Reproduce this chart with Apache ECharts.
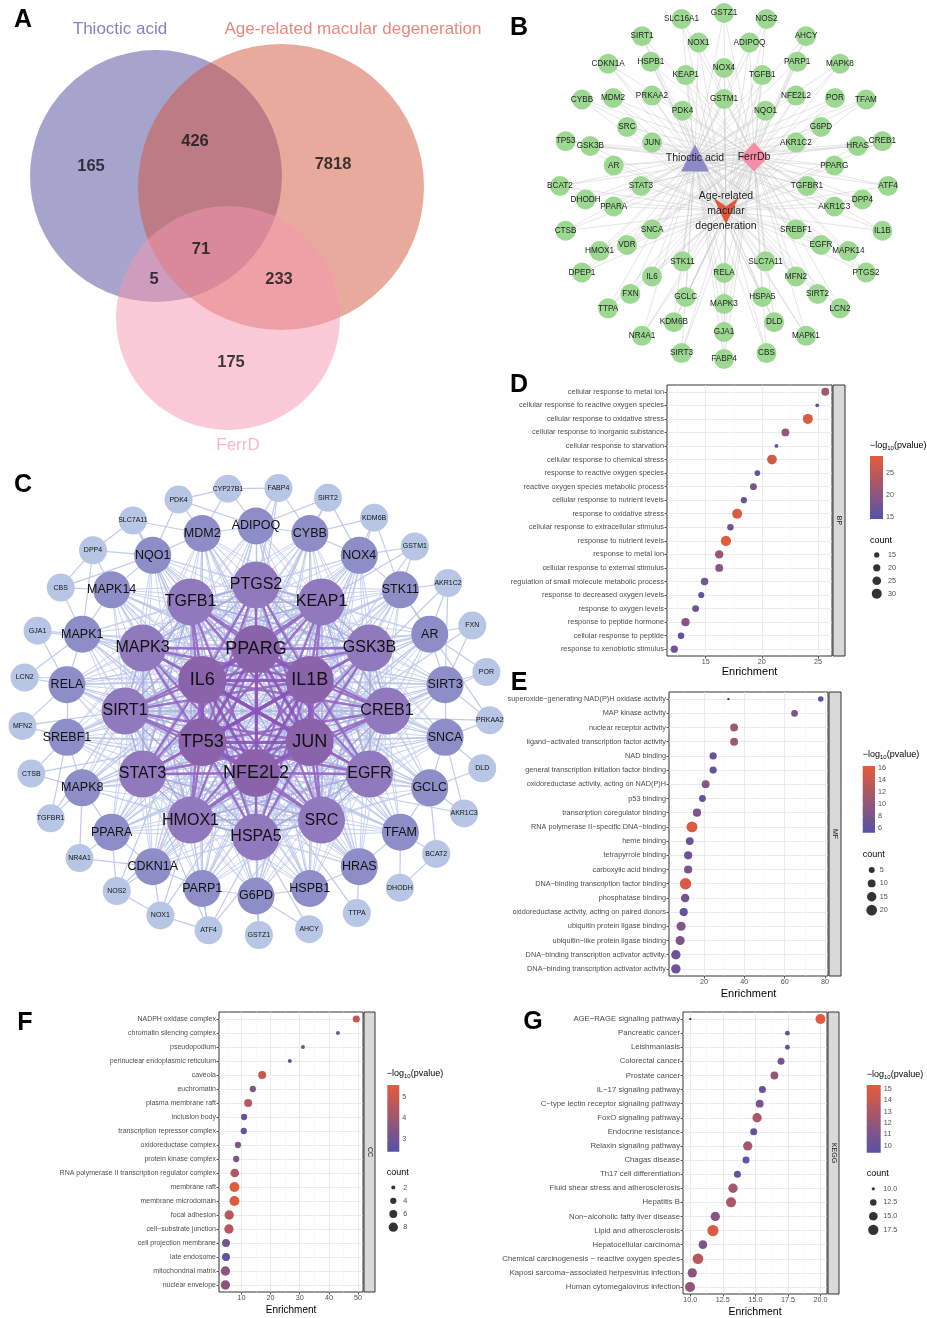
<!DOCTYPE html>
<html><head><meta charset="utf-8"><title>Figure</title>
<script src="https://cdn.jsdelivr.net/npm/echarts@6.0.0/dist/echarts.min.js"></script>
<style>html,body{margin:0;padding:0;background:#fff;}#chart{width:927px;height:1318px;}</style>
</head><body><div id="chart"></div>
<script>
// ======================= DATA =======================
const vennSetNames = ['Thioctic acid', 'Age-related macular degeneration', 'FerrD'];
// regions: T only, T∩A, A only, T∩A∩F, T∩F, A∩F, F only
const vennRegionCounts = [165, 426, 7818, 71, 5, 233, 175];

const bHubNames = ['Thioctic acid', 'FerrDb', 'Age-related\nmacular\ndegeneration'];
const bRing1 = ['GSTM1','NQO1','AKR1C2','TGFBR1','SREBF1','SLC7A11','RELA','STK11','SNCA','STAT3','JUN','PDK4'];
const bRing2 = ['NOX4','TGFB1','NFE2L2','G6PD','PPARG','AKR1C3','EGFR','MFN2','HSPA5','MAPK3','GCLC','IL6','VDR','PPARA','AR','SRC','PRKAA2','KEAP1'];
const bRing3 = ['GJA1','KDM6B','FXN','HMOX1','DHODH','GSK3B','MDM2','HSPB1','NOX1','ADIPOQ','PARP1','POR','HRAS','DPP4','MAPK14','SIRT2','DLD'];
const bRing4 = ['GSTZ1','NOS2','AHCY','MAPK8','TFAM','CREB1','ATF4','IL1B','PTGS2','LCN2','MAPK1','CBS','FABP4','SIRT3','NR4A1','TTPA','DPEP1','CTSB','BCAT2','TP53','CYBB','CDKN1A','SIRT1','SLC16A1'];

const cRing1 = ['PPARG','IL1B','JUN','NFE2L2','TP53','IL6'];
const cRing2 = ['CREB1','EGFR','SRC','HSPA5','HMOX1','STAT3','SIRT1','MAPK3','TGFB1','PTGS2','KEAP1','GSK3B'];
const cRing3 = ['ADIPOQ','CYBB','NOX4','STK11','AR','SIRT3','SNCA','GCLC','TFAM','HRAS','HSPB1','G6PD','PARP1','CDKN1A','PPARA','MAPK8','SREBF1','RELA','MAPK1','MAPK14','NQO1','MDM2'];
const cRing4 = ['FABP4','SIRT2','KDM6B','GSTM1','AKR1C2','FXN','POR','PRKAA2','DLD','AKR1C3','BCAT2','DHODH','TTPA','AHCY','GSTZ1','ATF4','NOX1','NOS2','NR4A1','TGFBR1','CTSB','MFN2','LCN2','GJA1','CBS','DPP4','SLC7A11','PDK4','CYP27B1'];
const cPeripheralLinks = {
  FABP4:['ADIPOQ','PPARG','PTGS2','CYBB','CYP27B1'], SIRT2:['CYBB','NOX4','ADIPOQ','PPARG'],
  KDM6B:['NOX4','CYBB','STK11','JUN'], GSTM1:['NOX4','STK11','NFE2L2','KEAP1'],
  AKR1C2:['STK11','AR','NFE2L2','SIRT3'], FXN:['AR','SIRT3','NFE2L2'], POR:['SIRT3','AR','NFE2L2'],
  PRKAA2:['SIRT3','SNCA','SIRT1','STK11'], DLD:['SNCA','GCLC'], AKR1C3:['GCLC','SNCA','NFE2L2'],
  BCAT2:['GCLC','TFAM','DHODH'], DHODH:['TFAM'], TTPA:['HRAS','NFE2L2'], AHCY:['HSPA5','G6PD'],
  GSTZ1:['G6PD','NFE2L2'], ATF4:['PARP1','NOX1','HMOX1','JUN','CREB1','STAT3'],
  NOX1:['NOS2','CDKN1A','HMOX1','NFE2L2'], NOS2:['CDKN1A','PPARA','HMOX1','IL6'],
  NR4A1:['PPARA','MAPK8','CDKN1A'], TGFBR1:['MAPK8','SREBF1','TGFB1'], CTSB:['SREBF1','MAPK8','TP53'],
  MFN2:['SREBF1','RELA','SIRT1'], LCN2:['RELA','MAPK1','IL6'], GJA1:['MAPK1','RELA','MAPK3'],
  CBS:['MAPK14','MAPK1','NQO1'], DPP4:['NQO1','MAPK14','MAPK1','CBS'], SLC7A11:['NQO1','MDM2','DPP4','NFE2L2'],
  PDK4:['MDM2','NQO1','ADIPOQ','CYP27B1'], CYP27B1:['ADIPOQ','MDM2']
};

// D: GO BP
const dTerms = ['cellular response to metal ion','cellular response to reactive oxygen species','cellular response to oxidative stress','cellular response to inorganic substance','cellular response to starvation','cellular response to chemical stress','response to reactive oxygen species','reactive oxygen species metabolic process','cellular response to nutrient levels','response to oxidative stress','cellular response to extracellular stimulus','response to nutrient levels','response to metal ion','cellular response to external stimulus','regulation of small molecule metabolic process','response to decreased oxygen levels','response to oxygen levels','response to peptide hormone','cellular response to peptide','response to xenobiotic stimulus'];
const dEnrichment = [25.65, 24.93, 24.1, 22.1, 21.3, 20.9, 19.6, 19.25, 18.4, 17.8, 17.2, 16.8, 16.2, 16.2, 14.9, 14.6, 14.1, 13.2, 12.8, 12.2];
const dCount = [22, 12, 30, 22, 12, 29, 16, 19, 17, 30, 18, 31, 24, 22, 21, 17, 19, 23, 18, 20];
const dLogP = [22, 15, 28, 21, 14.5, 27, 15.5, 18, 16, 28, 17, 29, 21, 20, 18, 15.5, 17, 19, 15.5, 17];
const dTicks = [15, 20, 25];
const dColorTicks = [15, 20, 25];
const dSizeLegend = [15, 20, 25, 30];

// E: GO MF
const eTerms = ['superoxide\u2212generating NAD(P)H oxidase activity','MAP kinase activity','nuclear receptor activity','ligand\u2212activated transcription factor activity','NAD binding','general transcription initiation factor binding','oxidoreductase activity, acting on NAD(P)H','p53 binding','transcription coregulator binding','RNA polymerase II\u2212specific DNA\u2212binding','heme binding','tetrapyrrole binding','carboxylic acid binding','DNA\u2212binding transcription factor binding','phosphatase binding','oxidoreductase activity, acting on paired donors','ubiquitin protein ligase binding','ubiquitin\u2212like protein ligase binding','DNA\u2212binding transcription activator activity,','DNA\u2212binding transcription activator activity'];
const eEnrichment = [77.9, 64.9, 34.9, 34.9, 24.5, 24.5, 20.8, 19.2, 16.5, 14.0, 12.9, 12.1, 12.1, 10.8, 10.6, 9.9, 8.6, 8.1, 6.0, 6.0];
const eCount = [4, 7, 10, 10, 8, 8, 10, 7, 11, 21, 10, 11, 11, 23, 12, 11, 14, 14, 15, 15];
const eLogP = [6, 8, 11, 11, 6.5, 6.5, 9, 6, 8.5, 16, 7, 7, 8, 15.5, 7.5, 6, 8.5, 8.5, 7, 7];
const eStray = [32.1];
const eTicks = [20, 40, 60, 80];
const eColorTicks = [6, 8, 10, 12, 14, 16];
const eSizeLegend = [5, 10, 15, 20];

// F: GO CC
const fTerms = ['NADPH oxidase complex','chromatin silencing complex','pseudopodium','perinuclear endoplasmic reticulum','caveola','euchromatin','plasma membrane raft','inclusion body','transcription repressor complex','oxidoreductase complex','protein kinase complex','RNA polymerase II transcription regulator complex','membrane raft','membrane microdomain','focal adhesion','cell\u2212substrate junction','cell projection membrane','late endosome','mitochondrial matrix','nuclear envelope'];
const fEnrichment = [49.4, 43.1, 31.1, 26.6, 17.1, 13.9, 12.3, 10.9, 10.8, 8.8, 8.2, 7.7, 7.6, 7.6, 5.8, 5.7, 4.7, 4.7, 4.5, 4.5];
const fCount = [5, 2, 2, 2, 6, 4, 6, 4, 4, 4, 4, 7, 9, 9, 8, 8, 6, 6, 8, 8];
const fLogP = [4.8, 3.2, 2.9, 2.6, 5.0, 3.3, 4.6, 2.7, 2.7, 3.4, 3.2, 4.4, 5.5, 5.5, 4.6, 4.6, 3.1, 2.5, 3.6, 3.6];
const fTicks = [10, 20, 30, 40, 50];
const fColorTicks = [3, 4, 5];
const fSizeLegend = [2, 4, 6, 8];

// G: KEGG
const gTerms = ['AGE\u2212RAGE signaling pathway','Pancreatic cancer','Leishmaniasis','Colorectal cancer','Prostate cancer','IL\u221217 signaling pathway','C\u2212type lectin receptor signaling pathway','FoxO signaling pathway','Endocrine resistance','Relaxin signaling pathway','Chagas disease','Th17 cell differentiation','Fluid shear stress and atherosclerosis','Hepatitis B','Non\u2212alcoholic fatty liver disease','Lipid and atherosclerosis','Hepatocellular carcinoma','Chemical carcinogenesis \u2212 reactive oxygen species','Kaposi sarcoma\u2212associated herpesvirus infection','Human cytomegalovirus infection'];
const gEnrichment = [20.0, 17.46, 17.46, 16.97, 16.46, 15.54, 15.33, 15.13, 14.87, 14.41, 14.28, 13.62, 13.28, 13.13, 11.92, 11.74, 10.97, 10.59, 10.15, 9.98];
const gCount = [17, 11, 11, 13, 14, 13, 14, 16, 13, 16, 13, 13, 16, 17, 16, 19, 15, 18, 16, 17];
const gLogP = [15.3, 9.6, 9.6, 11, 12, 10.3, 11, 13, 10, 12.5, 10, 9.8, 12.5, 13, 11.5, 15, 11, 13.5, 11.5, 12];
const gStray = [10.0];
const gTicks = [10, 12.5, 15, 17.5, 20];
const gColorTicks = [10, 11, 12, 13, 14, 15];
const gSizeLegend = [10, 12.5, 15, 17.5];

// ======================= LAYOUT / STYLE =======================
const FONT = 'Arial, "Liberation Sans", Helvetica, sans-serif';
const LOW = '#5652a8', HIGH = '#e45b3b';
const option = {animation:false, backgroundColor:'#fff', textStyle:{fontFamily:FONT},
  grid:[], xAxis:[], yAxis:[], series:[], visualMap:[], graphic:{elements:[]}};

function addGrid(grid, xa, ya) {
  option.grid.push(Object.assign({containLabel:false, outerBoundsMode:'none'}, grid));
  const gi = option.grid.length - 1;
  option.xAxis.push(Object.assign({gridIndex:gi}, xa));
  option.yAxis.push(Object.assign({gridIndex:gi}, ya));
  return {xAxisIndex: option.xAxis.length - 1, yAxisIndex: option.yAxis.length - 1};
}
const hid = (min, max, inv) => ({type:'value', min, max, inverse:!!inv, show:false, splitLine:{show:false}});
function gText(x, y, text, style, extra) {
  option.graphic.elements.push(Object.assign({type:'text', x, y, z:100, silent:true,
    style:Object.assign({text, align:'left', verticalAlign:'middle', fontFamily:FONT, fill:'#000'}, style)}, extra || {}));
}

// ---------- Panel A: Venn ----------
const VENN = {box:{left:0, top:0, width:480, height:460},
  circles:[[156,176,126],[281,187,143],[228,318,112]],
  fills:['rgba(77,71,153,0.5)','rgba(211,85,61,0.5)','rgba(245,149,173,0.5)'],
  countPos:[[91,166],[195,141],[333,164],[201,249],[154,279],[279,279],[231,362]],
  setPos:[[120,29],[353,29],[238,445]],
  setColors:['#6761af','#e3695b','#f5a5bc']};
{
  const ax = addGrid(VENN.box, hid(0, 480), hid(0, 460, true));
  option.series.push({type:'custom', ...ax, silent:true, z:1, data:VENN.circles,
    renderItem:(params, api) => {
      const c = api.coord([api.value(0), api.value(1)]);
      const r = api.size([api.value(2), 0])[0];
      return {type:'circle', shape:{cx:c[0], cy:c[1], r}, style:{fill:VENN.fills[params.dataIndex]}};
    }});
  option.series.push({type:'scatter', ...ax, silent:true, z:5, symbolSize:1, itemStyle:{color:'rgba(0,0,0,0)'},
    data:vennRegionCounts.map((c, i) => [VENN.countPos[i][0], VENN.countPos[i][1], c]),
    label:{show:true, position:'inside', formatter:p => String(p.value[2]), fontSize:16.5, fontWeight:'bold', color:'#111', fontFamily:FONT}});
  option.series.push({type:'scatter', ...ax, silent:true, z:5, symbolSize:1, itemStyle:{color:'rgba(0,0,0,0)'},
    data:vennSetNames.map((n, i) => ({name:n, value:VENN.setPos[i], label:{color:VENN.setColors[i]}})),
    label:{show:true, position:'inside', formatter:'{b}', fontSize:17, fontFamily:FONT}});
}

// ---------- Panel B: compound-target network ----------
const BL = {box:{left:480, top:0, width:447, height:380}, center:[244,186],
  rings:[[83,87],[112,118],[139,146],[164,173]], start:[-90,-90,90,-90],
  hubOffset:[[-29,-28],[30,-29],[2,25]],
  hubSymbols:['triangle','diamond','path://M0,0 L12.5,9 L25,0 L12.5,27 Z'],
  hubSizes:[[28,27],[28,29],[25,27]], hubColors:['#8d89c9','#f58ca8','#e2573a'],
  nodeSize:20, nodeColor:'#9dd892'};
{
  const ax = addGrid(BL.box, hid(0, 447), hid(0, 380, true));
  const nodes = [], links = [];
  bHubNames.forEach((n, i) => nodes.push({name:n,
    value:[BL.center[0] + BL.hubOffset[i][0], BL.center[1] + BL.hubOffset[i][1]],
    symbol:BL.hubSymbols[i], symbolSize:BL.hubSizes[i], itemStyle:{color:BL.hubColors[i]},
    label:{fontSize:10.5, lineHeight:15, color:'#222'}}));
  [bRing1, bRing2, bRing3, bRing4].forEach((ring, ri) => {
    ring.forEach((g, k) => {
      const a = (BL.start[ri] + k * 360 / ring.length) * Math.PI / 180;
      const idx = nodes.length;
      nodes.push({name:g, value:[BL.center[0] + BL.rings[ri][0] * Math.cos(a), BL.center[1] + BL.rings[ri][1] * Math.sin(a)]});
      for (let h = 0; h < bHubNames.length; h++) links.push({source:idx, target:h});
    });
  });
  option.series.push({type:'graph', coordinateSystem:'cartesian2d', ...ax, layout:'none', silent:true, z:3,
    symbolSize:BL.nodeSize, itemStyle:{color:BL.nodeColor},
    label:{show:true, position:'inside', formatter:'{b}', fontSize:8.2, color:'#222', fontFamily:FONT},
    lineStyle:{color:'#c9c9c9', width:0.6, opacity:0.8, curveness:0},
    data:nodes, links:links});
}

// ---------- Panel C: PPI network ----------
const CL = {box:{left:0, top:470, width:510, height:500}, center:[256,241],
  rings:[[62,62],[131,126],[191,185],[234,224]], start:[-90,0,-90,-84.5],
  sizes:[48,47,37,28], fonts:[18,16,12.5,7],
  colors:['#8b63ab','#9079bc','#8d8ec7','#b8c6e6']};
{
  const ax = addGrid(CL.box, hid(0, 510), hid(0, 500, true));
  const nodes = [], index = {};
  const rings = [cRing1, cRing2, cRing3, cRing4];
  rings.forEach((ring, ri) => ring.forEach((g, k) => {
    const a = (CL.start[ri] + k * 360 / ring.length) * Math.PI / 180;
    index[g] = nodes.length;
    nodes.push({name:g, value:[CL.center[0] + CL.rings[ri][0] * Math.cos(a), CL.center[1] + CL.rings[ri][1] * Math.sin(a)],
      symbolSize:CL.sizes[ri], itemStyle:{color:CL.colors[ri]}, label:{fontSize:CL.fonts[ri]}});
  }));
  const S = {light:{color:'#b9c5e9', width:1.2}, light2:{color:'#c3cdee', width:1.0},
             lav:{color:'#a6a8dc', width:1.6}, purple:{color:'#9466c2', width:2.3}, thick:{color:'#8a55b8', width:3.2}};
  const links = [];
  const add = (a, b, st) => { if (index[a] != null && index[b] != null) links.push({source:index[a], target:index[b], lineStyle:st}); };
  cRing3.forEach(n => cRing2.forEach(h => add(n, h, S.light2)));
  cRing3.forEach(n => cRing1.forEach(h => add(n, h, S.light)));
  cRing3.forEach((n, k) => add(n, cRing3[(k + 1) % cRing3.length], S.light));
  Object.keys(cPeripheralLinks).forEach(n => cPeripheralLinks[n].forEach(m => add(n, m, S.light)));
  for (let i = 0; i < cRing2.length; i++) for (let j = i + 1; j < cRing2.length; j++) add(cRing2[i], cRing2[j], S.lav);
  cRing1.forEach(a => cRing2.forEach(b => add(a, b, S.purple)));
  for (let i = 0; i < cRing1.length; i++) for (let j = i + 1; j < cRing1.length; j++) add(cRing1[i], cRing1[j], S.thick);
  option.series.push({type:'graph', coordinateSystem:'cartesian2d', ...ax, layout:'none', silent:true, z:3,
    label:{show:true, position:'inside', formatter:'{b}', color:'#111', fontFamily:FONT},
    lineStyle:{opacity:0.9, curveness:0},
    data:nodes, links:links});
}

// ---------- Dot plots D-G ----------
function dotPanel(P, terms, enr, cnt, logp, stray) {
  const s = P.size;
  const sizeFn = c => Math.sqrt(Math.max(2.5, s.dA * s.dA + (s.dB * s.dB - s.dA * s.dA) * (c - s.cA) / (s.cB - s.cA)));
  const isTick = (v, arr) => arr.some(t => Math.abs(t - v) < 1e-6);
  const ax = addGrid({left:P.plot[0], top:P.plot[1], width:P.plot[2], height:P.plot[3], show:true, borderColor:'#333', borderWidth:1, backgroundColor:'#fff'},
    {type:'value', min:P.xr[0], max:P.xr[1], minInterval:P.xInt, maxInterval:P.xInt,
     name:'Enrichment', nameLocation:'middle', nameGap:P.nameGap, nameTextStyle:{fontSize:P.nameFs, color:'#000', fontFamily:FONT},
     axisLine:{show:false},
     axisTick:{show:true, length:2.5, lineStyle:{color:'#333', width:0.8}, customValues:P.ticks},
     axisLabel:{fontSize:7.2, color:'#4d4d4d', margin:3, customValues:P.ticks, formatter:v => isTick(v, P.ticks) ? P.fmt(v) : ''},
     splitLine:{show:true, lineStyle:{color:'#e6e6e6', width:0.8}},
     minorTick:{show:false, splitNumber:2}, minorSplitLine:{show:true, lineStyle:{color:'#f3f3f3', width:0.5}}},
    {type:'category', data:terms, inverse:true, axisLine:{show:false},
     axisTick:{show:true, alignWithLabel:true, interval:0, length:2.5, lineStyle:{color:'#333', width:0.8}},
     axisLabel:{interval:0, fontSize:P.fs, color:'#4d4d4d', margin:3},
     splitLine:{show:true, interval:0, alignWithLabel:true, lineStyle:{color:'#e6e6e6', width:0.8}}});
  const si = option.series.length;
  option.series.push({type:'scatter', ...ax, silent:true, z:3,
    data:terms.map((t, i) => [enr[i], t, cnt[i], logp[i]]), symbolSize:v => sizeFn(v[2]), itemStyle:{opacity:1}});
  option.visualMap.push({type:'continuous', show:false, seriesIndex:si, dimension:3,
    min:P.cb.range[0], max:P.cb.range[1], inRange:{color:[LOW, HIGH]}});
  if (stray) option.series.push({type:'scatter', ...ax, silent:true, z:4, symbol:'rect', symbolSize:2,
    itemStyle:{color:'#000'}, data:stray.map(v => [v, terms[0]])});

  // colour bar
  const cb = P.cb;
  const cax = addGrid({left:cb.rect[0], top:cb.rect[1], width:cb.rect[2], height:cb.rect[3]}, hid(0, 1),
    {type:'value', min:cb.range[0], max:cb.range[1], position:'right', minInterval:cb.int, maxInterval:cb.int, z:10,
     axisLine:{show:false},
     axisTick:{show:true, inside:true, length:2.5, lineStyle:{color:'#fff', width:1}, customValues:cb.ticks},
     axisLabel:{fontSize:7.2, color:'#4d4d4d', margin:3, customValues:cb.ticks, formatter:v => isTick(v, cb.ticks) ? String(v) : ''},
     splitLine:{show:false}});
  option.series.push({type:'custom', ...cax, silent:true, z:2, data:[[0, cb.range[0], cb.range[1]]],
    renderItem:(params, api) => {
      const p0 = api.coord([0, api.value(1)]), p1 = api.coord([1, api.value(2)]);
      return {type:'rect', shape:{x:p0[0], y:p1[1], width:p1[0] - p0[0], height:p0[1] - p1[1]},
        style:{fill:new echarts.graphic.LinearGradient(0, 1, 0, 0, [{offset:0, color:LOW}, {offset:1, color:HIGH}])}};
    }});

  // size legend
  const sz = P.szLegend;
  const sax = addGrid({left:sz.rect[0], top:sz.rect[1], width:sz.rect[2], height:sz.rect[3]}, hid(0, 1),
    {type:'category', data:sz.vals.map(P.szFmt), inverse:true, position:'right', axisLine:{show:false}, axisTick:{show:false},
     axisLabel:{interval:0, fontSize:7.2, color:'#4d4d4d', margin:sz.margin}, splitLine:{show:false}});
  option.series.push({type:'scatter', ...sax, silent:true, data:sz.vals.map(v => [0.5, P.szFmt(v), v]),
    symbolSize:v => sizeFn(v[2]), itemStyle:{color:'#000'}});

  gText(P.cbTitle[0], P.cbTitle[1], '{a|\u2212log}{s|10}{a|(pvalue)}',
    {rich:{a:{fontSize:9, fill:'#000', fontFamily:FONT}, s:{fontSize:6, fill:'#000', fontFamily:FONT, padding:[5,0,0,0]}}});
  gText(P.countTitle[0], P.countTitle[1], 'count', {fontSize:9});
  option.graphic.elements.push({type:'rect', z:50, silent:true,
    shape:{x:P.strip[0], y:P.strip[1], width:P.strip[2], height:P.strip[3]},
    style:{fill:'#d9d9d9', stroke:'#333', lineWidth:1}});
  gText(P.strip[0] + P.strip[2] / 2, P.strip[1] + P.strip[3] / 2, P.stripLabel,
    {fontSize:7, fill:'#1a1a1a', align:'center'}, {rotation:-Math.PI / 2});
}

const intFmt = v => String(v);
const oneDec = v => v.toFixed(1);
dotPanel({plot:[667,385,165,271], xr:[11.55,26.25], xInt:5, ticks:dTicks, fmt:intFmt, fs:7.4, nameGap:9.5, nameFs:11,
  size:{cA:15, dA:5.3, cB:30, dB:10},
  cb:{rect:[870,456,13,63], range:[14.5,28.9], int:5, ticks:dColorTicks},
  cbTitle:[870,446], countTitle:[870,540.5],
  szLegend:{rect:[870.5,548.5,12.5,51.6], vals:dSizeLegend, margin:5}, szFmt:intFmt,
  strip:[833,385,12,271], stripLabel:'BP'}, dTerms, dEnrichment, dCount, dLogP, null);

dotPanel({plot:[669,692,159,284], xr:[2.6,81.5], xInt:20, ticks:eTicks, fmt:intFmt, fs:7.3, nameGap:12.5, nameFs:11,
  size:{cA:5, dA:6, cB:20, dB:10.7},
  cb:{rect:[862.7,766,12.3,66.7], range:[5.2,16.4], int:2, ticks:eColorTicks},
  cbTitle:[862.7,755], countTitle:[862.7,855],
  szLegend:{rect:[865.7,863.3,12,53.6], vals:eSizeLegend, margin:2}, szFmt:intFmt,
  strip:[829,692,12,284], stripLabel:'MF'}, eTerms, eEnrichment, eCount, eLogP, eStray);

dotPanel({plot:[219,1012,144,280], xr:[2.3,51.7], xInt:10, ticks:fTicks, fmt:intFmt, fs:7.0, nameGap:13.5, nameFs:10,
  size:{cA:2, dA:4, cB:8, dB:9.3},
  cb:{rect:[387.3,1085,12,66.7], range:[2.4,5.6], int:1, ticks:fColorTicks},
  cbTitle:[386.7,1074], countTitle:[386.7,1172.7],
  szLegend:{rect:[387.3,1181,12,52.8], vals:fSizeLegend, margin:4}, szFmt:intFmt,
  strip:[364,1012,11,280], stripLabel:'CC'}, fTerms, fEnrichment, fCount, fLogP, null);

dotPanel({plot:[683,1012,144,282], xr:[9.44,20.5], xInt:2.5, ticks:gTicks, fmt:oneDec, fs:7.75, nameGap:13, nameFs:10.5,
  size:{cA:10, dA:3.3, cB:17.5, dB:10.3},
  cb:{rect:[866.7,1085,14,67.7], range:[9.4,15.35], int:1, ticks:gColorTicks},
  cbTitle:[866.7,1075], countTitle:[866.7,1174],
  szLegend:{rect:[866.8,1182,13,54.7], vals:gSizeLegend, margin:3.5}, szFmt:oneDec,
  strip:[828,1012,11,282], stripLabel:'KEGG'}, gTerms, gEnrichment, gCount, gLogP, gStray);

// panel letters
[['A',23,20],['B',519,28],['C',23,485],['D',519,385],['E',519,683],['F',25,1023],['G',533,1022]].forEach(l =>
  gText(l[1], l[2], l[0], {fontSize:25, fontWeight:'bold', align:'center', fill:'#000'}));

const chart = echarts.init(document.getElementById('chart'), null, {renderer:'canvas', width:927, height:1318});
chart.setOption(option);
</script>
</body></html>
